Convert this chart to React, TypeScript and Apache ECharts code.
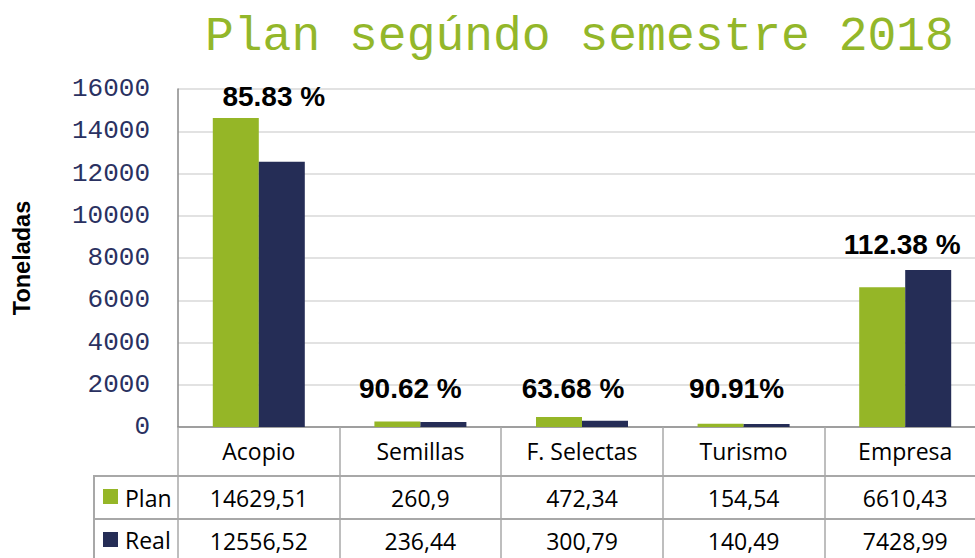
import React, { useEffect, useRef } from "react";
import * as echarts from "echarts";

const titleText = "Plan segúndo semestre 2018";
const categories = ["Acopio", "Semillas", "F. Selectas", "Turismo", "Empresa"];
const seriesNames = ["Plan", "Real"];
const planValues = [14629.51, 260.9, 472.34, 154.54, 6610.43];
const realValues = [12556.52, 236.44, 300.79, 140.49, 7428.99];
const percentLabels = ["85.83 %", "90.62 %", "63.68 %", "90.91%", "112.38 %"];
const yTicks = { min: 0, max: 16000, interval: 2000 };
const yAxisName = "Toneladas";

const GREEN = "#95b627";
const NAVY = "#252d56";
const TABLE_LINE = "#a8a8a8";
const TABLE_FONT = "Open Sans";

const labelOffsets: [number, number][] = [
  [-8, -46],
  [-33, -15],
  [-32, -13],
  [-30, -17],
  [-26, -7],
];

const fmt = (v: number) => String(v).replace(".", ",");

export default function App() {
  const ref = useRef<HTMLDivElement>(null);
  useEffect(() => {
    document.body.style.margin = "0";
    document.body.style.overflow = "hidden";
    if (!ref.current) return;
    const chart = echarts.init(ref.current, undefined, { renderer: "svg" });
    const rowAxis = (values: number[], margin: number) => ({
      type: "category",
      data: categories,
      position: "bottom",
      gridIndex: 0,
      axisLine: { show: false },
      axisTick: { show: false },
      splitLine: { show: false },
      axisLabel: {
        interval: 0,
        margin,
        verticalAlign: "middle",
        fontFamily: TABLE_FONT,
        fontSize: 23,
        color: "#000",
        formatter: (_v: string, i: number) => fmt(values[i]),
      },
    });
    chart.setOption({
      animation: false,
      backgroundColor: "#fff",
      title: {
        text: titleText,
        left: 200,
        top: 8,
        textStyle: {
          fontFamily: "Liberation Mono",
          fontSize: 48,
          fontWeight: "normal",
          color: "#93b72a",
        },
      },
      grid: { left: 178, right: 4, top: 89, bottom: 131, containLabel: false },
      xAxis: [
        {
          type: "category",
          data: categories,
          position: "bottom",
          axisLine: { show: true, lineStyle: { color: "#898989", width: 1.5 } },
          axisTick: { show: true, length: 135, lineStyle: { color: TABLE_LINE, width: 1.5 } },
          axisLabel: {
            interval: 0,
            margin: 24,
            verticalAlign: "middle",
            fontFamily: TABLE_FONT,
            fontSize: 23,
            color: "#000",
          },
          splitLine: { show: false },
        },
        rowAxis(planValues, 70.5),
        rowAxis(realValues, 113.5),
      ],
      yAxis: {
        type: "value",
        min: yTicks.min,
        max: yTicks.max,
        interval: yTicks.interval,
        axisLine: { show: true, lineStyle: { color: "#898989", width: 1.5 } },
        axisTick: { show: false },
        axisLabel: {
          margin: 28,
          fontFamily: "Liberation Mono",
          fontSize: 26,
          color: "#2a3161",
          formatter: (v: number) => String(v),
        },
        splitLine: { show: true, lineStyle: { color: "#d9d9d9", width: 1.5 } },
      },
      series: [
        {
          name: seriesNames[0],
          type: "bar",
          data: planValues,
          barWidth: 46,
          barGap: "0%",
          itemStyle: { color: GREEN },
        },
        {
          name: seriesNames[1],
          type: "bar",
          data: realValues.map((v, i) => ({
            value: v,
            label: { offset: labelOffsets[i] },
          })),
          barWidth: 46,
          barGap: "0%",
          itemStyle: { color: NAVY },
          label: {
            show: true,
            position: "top",
            distance: 5,
            fontFamily: "Liberation Sans",
            fontWeight: "bold",
            fontSize: 28,
            color: "#000",
            formatter: (p: any) => percentLabels[p.dataIndex],
          },
        },
      ],
      graphic: [
        {
          type: "text",
          x: 22,
          y: 258,
          rotation: Math.PI / 2,
          style: {
            text: yAxisName,
            fontFamily: "Liberation Sans",
            fontWeight: "bold",
            fontSize: 23.5,
            fill: "#000",
            align: "center",
            verticalAlign: "middle",
          },
        },
        { type: "line", shape: { x1: 94, y1: 476, x2: 990, y2: 476 }, style: { stroke: TABLE_LINE, lineWidth: 2 } },
        { type: "line", shape: { x1: 94, y1: 519, x2: 990, y2: 519 }, style: { stroke: TABLE_LINE, lineWidth: 2 } },
        { type: "line", shape: { x1: 94, y1: 475, x2: 94, y2: 565 }, style: { stroke: TABLE_LINE, lineWidth: 2 } },
        { type: "rect", shape: { x: 103, y: 489, width: 15, height: 15 }, style: { fill: GREEN } },
        {
          type: "text",
          x: 125,
          y: 497.5,
          style: { text: seriesNames[0], fontFamily: TABLE_FONT, fontSize: 23, fill: "#000", verticalAlign: "middle" },
        },
        { type: "rect", shape: { x: 103, y: 532, width: 15, height: 15 }, style: { fill: NAVY } },
        {
          type: "text",
          x: 125,
          y: 540,
          style: { text: seriesNames[1], fontFamily: TABLE_FONT, fontSize: 23, fill: "#000", verticalAlign: "middle" },
        },
      ],
    });
    return () => chart.dispose();
  }, []);
  return (
    <div
      ref={ref}
      style={{ position: "fixed", left: 0, top: 0, width: 990, height: 558 }}
    />
  );
}
